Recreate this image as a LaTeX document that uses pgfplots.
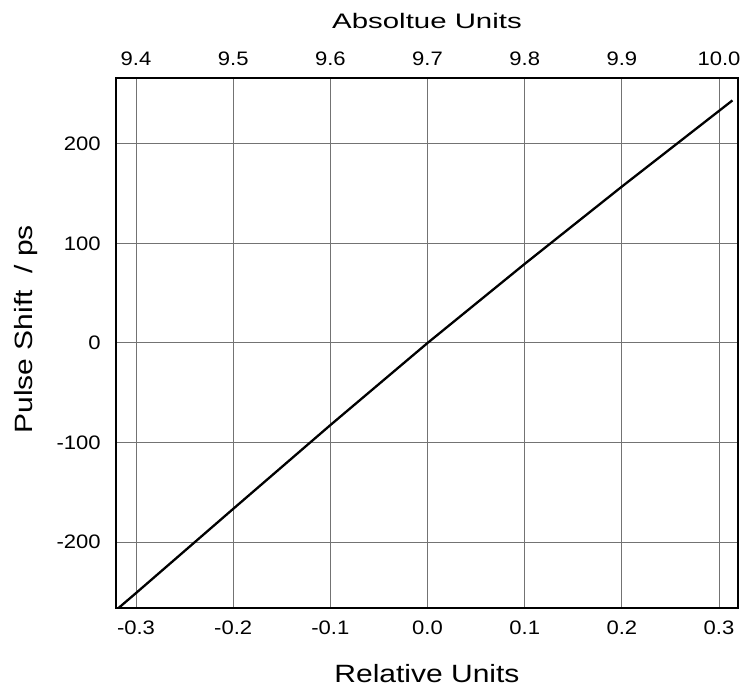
\documentclass[border=0pt]{standalone}
\usepackage{pgfplots}
\pgfplotsset{compat=1.18}
\usepackage{fontspec}
\setmainfont{Liberation Sans}
\begin{document}
\begin{tikzpicture}[x=1pt,y=1pt]
\pgfplotsset{
  base/.style={
    scale only axis, width=622pt, height=530pt,
    at={(0,0)}, anchor=south west,
    xmin=-0.3206, xmax=0.3195, ymin=-266, ymax=266,
    major tick length=0pt,
    /pgf/number format/assume math mode=true,
    tick label style={font=\fontsize{19.5}{23}\selectfont, xscale=1.13},
    label style={font=\fontsize{25}{29}\selectfont, xscale=1.2},
    x tick label style={/pgf/number format/fixed, /pgf/number format/fixed zerofill, /pgf/number format/precision=1},
  }
}
\begin{axis}[base,
  axis line style={line width=2pt},
  xtick={-0.3,-0.2,-0.1,0,0.1,0.2,0.3},
  ytick={-200,-100,0,100,200},
  grid=major,
  major grid style={black!55, line width=1pt},
  xlabel={Relative Units},
  ylabel={Pulse Shift\ \ / ps},
  xlabel style={at={(axis description cs:0.5,0)}, anchor=north, yshift=-53pt},
  ylabel style={at={(axis description cs:-0.1198,0.526)}, anchor=south},
  x tick label style={yshift=-9pt},
  y tick label style={xshift=-10pt},
]
\addplot[black, line width=2.3pt] coordinates {
(-0.318,-266) (-0.3,-251) (-0.2,-166.5) (-0.1,-82.4) (0,0)
(0.1,79.4) (0.2,157) (0.3,233) (0.3138,243.5)
};
\end{axis}
\begin{axis}[base,
  xmin=9.3794, xmax=10.0195,
  axis x line*=top, axis y line=none,
  xtick={9.4,9.5,9.6,9.7,9.8,9.9,10.0},
  x tick label style={yshift=9pt},
  xlabel={Absoltue Units},
  xlabel style={at={(axis description cs:0.5,1)}, anchor=south, yshift=46pt, font=\fontsize{21}{25}\selectfont, xscale=1.4/1.2},
  axis line style={line width=2pt},
]
\end{axis}
\pgfresetboundingbox
\path (-116,-82) rectangle (628,608);
\end{tikzpicture}
\end{document}
